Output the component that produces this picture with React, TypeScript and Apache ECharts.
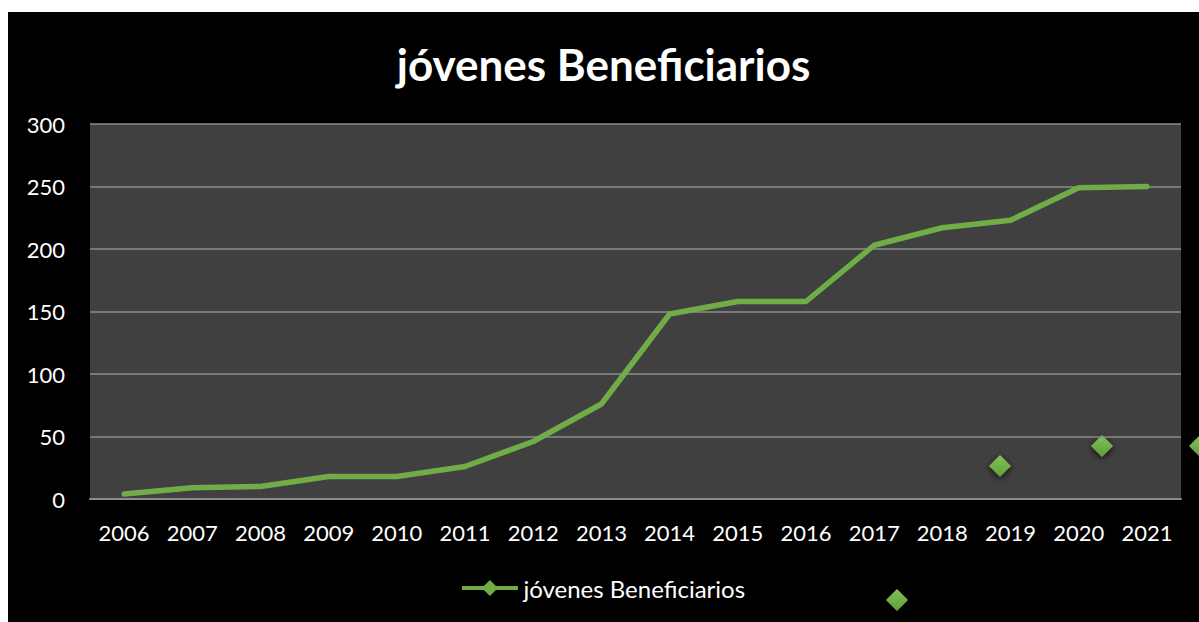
import React, { useEffect, useRef } from "react";
import * as echarts from "echarts";

const categories = ["2006","2007","2008","2009","2010","2011","2012","2013","2014","2015","2016","2017","2018","2019","2020","2021"];
const beneficiarios = [4, 9, 10, 18, 18, 26, 46, 76, 148, 158, 158, 203, 217, 223, 249, 250];
const seriesName = "jóvenes Beneficiarios";
const titleText = "jóvenes Beneficiarios";

const FONT = "Lato, 'Open Sans', sans-serif";

function diamond(cx: number, cy: number, r: number) {
  return {
    type: "polygon",
    shape: { points: [[cx, cy - r], [cx + r, cy], [cx, cy + r], [cx - r, cy]] },
    style: {
      fill: new echarts.graphic.LinearGradient(0, 0, 0, 1, [
        { offset: 0, color: "#80c25a" },
        { offset: 1, color: "#5f9e3a" },
      ]),
      shadowBlur: 6,
      shadowColor: "rgba(0,0,0,0.8)",
      shadowOffsetY: 2,
    },
    silent: true,
  };
}

export default function App() {
  const ref = useRef<HTMLDivElement>(null);
  useEffect(() => {
    if (!ref.current) return;
    const chart = echarts.init(ref.current, null, { renderer: "svg" });
    chart.setOption({
      animation: false,
      backgroundColor: "#000000",
      title: {
        text: titleText,
        left: "center",
        top: 25,
        textStyle: { color: "#ffffff", fontSize: 44, fontWeight: "bold", fontFamily: FONT },
      },
      grid: { left: 82, right: 18, top: 112, bottom: 123, show: true, backgroundColor: "#404040", borderWidth: 0 },
      legend: {
        bottom: 17,
        left: "center",
        data: [{ name: seriesName, icon: "path://M0,6 L56,6 L56,10 L0,10 Z M28,0 L36,8 L28,16 L20,8 Z" }],
        itemWidth: 57,
        itemHeight: 16,
        itemGap: 4,
        textStyle: { color: "#ffffff", fontSize: 24, fontFamily: FONT },
      },
      xAxis: {
        type: "category",
        data: categories,
        boundaryGap: true,
        axisLine: { show: true, lineStyle: { color: "#8c8c8c", width: 2 } },
        axisTick: { show: false },
        axisLabel: { color: "#ffffff", fontSize: 22, fontFamily: FONT, margin: 22 },
      },
      yAxis: {
        type: "value",
        min: 0,
        max: 300,
        interval: 50,
        axisLine: { show: false },
        axisTick: { show: false },
        splitLine: { show: true, lineStyle: { color: "#8c8c8c", width: 1.5 } },
        axisLabel: { color: "#ffffff", fontSize: 22, fontFamily: FONT, margin: 25 },
      },
      series: [
        {
          name: seriesName,
          type: "line",
          data: beneficiarios,
          symbol: "diamond",
          showSymbol: false,
          lineStyle: { color: "#70ad47", width: 5.5, cap: "round", join: "round" },
          itemStyle: { color: "#70ad47" },
        },
      ],
      graphic: [
        diamond(889, 588, 11),
        diamond(992, 454, 11),
        diamond(1094, 434, 11),
        diamond(1192, 434, 11),
      ],
    });
    return () => chart.dispose();
  }, []);
  return (
    <div
      ref={ref}
      style={{ position: "absolute", left: 8, top: 12, width: 1191, height: 610 }}
    />
  );
}
